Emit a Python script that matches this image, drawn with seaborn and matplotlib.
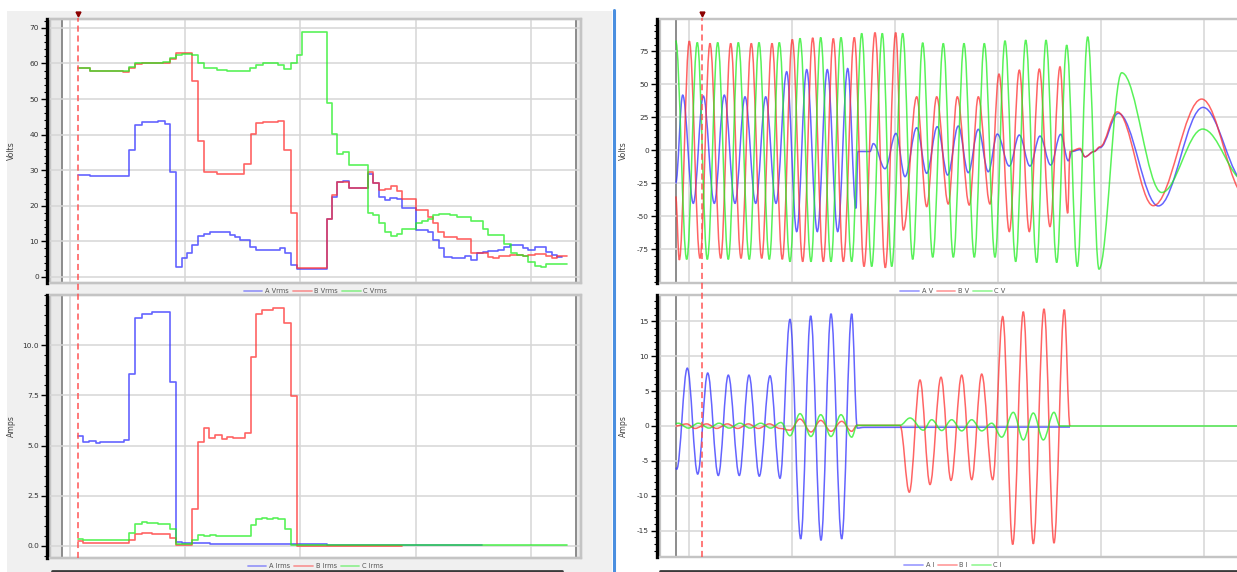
import numpy as np
import pandas as pd
import matplotlib
matplotlib.use("Agg")
import matplotlib.pyplot as plt
import seaborn as sns
from matplotlib.path import Path
from matplotlib.patches import PathPatch, Rectangle
from matplotlib.lines import Line2D
from matplotlib.ticker import MultipleLocator, FixedLocator, FormatStrFormatter

# ---------------- data ----------------
# Left panels: RMS step traces (time in ms-like units, grid every 100)
a_vrms_t = [7.1, 17.7, 51.8, 56.7, 62.5, 76.9, 82.7, 87.0, 91.9, 97.1, 102.0, 106.4, 111.5, 116.5, 121.6,
            139.0, 143.3, 147.6, 156.3, 161.5, 182.3, 186.6, 191.5, 196.7, 222.7, 227.0, 231.9, 237.1, 242.0,
            258.7, 263.1, 268.0, 273.2, 277.5, 283.3, 288.2, 299.7, 310.1, 315.0, 320.2, 324.5, 330.9, 342.4,
            347.3, 352.5, 357.7, 362.6, 371.3, 376.2, 381.4, 392.4, 397.3, 403.0, 412.3, 417.5, 421.8, 426.1]
a_vrms_v = [28.6, 28.4, 35.8, 42.7, 43.5, 43.8, 43.0, 29.4, 2.8, 5.2, 6.8, 9.1, 11.5, 12.2, 12.5,
            11.9, 11.3, 10.5, 8.4, 7.7, 8.0, 6.8, 3.3, 2.2, 16.4, 22.5, 26.7, 27.0, 25.0,
            28.9, 26.3, 22.5, 21.6, 22.2, 21.8, 19.4, 13.3, 12.7, 10.3, 8.0, 5.6, 5.3, 5.9,
            4.7, 6.8, 7.0, 7.3, 7.7, 8.4, 9.1, 8.0, 7.7, 8.4, 7.0, 6.1, 5.6, 5.6]
b_vrms_t = [7.1, 17.7, 46.6, 51.8, 56.7, 62.5, 87.0, 91.9, 105.8, 111.5, 116.5, 127.4, 139.0, 151.1, 156.9,
            161.5, 167.8, 180.8, 186.0, 191.5, 196.7, 222.7, 227.6, 231.9, 242.0, 258.7, 263.1, 268.0, 273.2,
            278.1, 283.3, 288.2, 299.7, 310.1, 315.0, 319.3, 324.5, 335.2, 347.3, 357.7, 362.6, 367.0, 371.9,
            381.4, 392.4, 397.3, 403.0, 412.3, 417.5, 421.8, 430.5]
b_vrms_v = [58.6, 57.9, 57.6, 58.8, 59.8, 60.2, 61.2, 62.9, 55.1, 38.3, 29.4, 28.9, 28.8, 31.7, 40.1,
            43.4, 43.6, 43.9, 35.8, 18.1, 2.5, 16.4, 23.0, 26.7, 24.9, 29.4, 26.3, 24.4, 24.6,
            25.6, 24.2, 21.8, 18.8, 16.9, 15.2, 12.5, 11.3, 10.8, 6.8, 6.6, 5.6, 5.3, 5.9,
            6.1, 5.8, 6.1, 6.4, 5.8, 5.3, 5.8, 5.8]
c_vrms_t = [7.1, 17.7, 51.8, 56.7, 62.5, 81.2, 87.0, 91.9, 97.1, 105.8, 111.5, 116.5, 127.4, 136.1, 156.3,
            161.5, 167.8, 180.8, 186.0, 191.5, 196.7, 201.0, 222.7, 227.0, 231.9, 237.1, 242.0, 258.2, 263.1,
            268.0, 273.2, 278.1, 283.3, 288.2, 299.7, 304.9, 310.1, 315.0, 320.2, 329.4, 335.2, 347.3, 357.7,
            362.6, 376.2, 382.0, 387.2, 392.4, 397.3, 403.0, 408.0, 412.3, 430.5]
c_vrms_v = [58.6, 58.0, 59.1, 60.0, 60.2, 60.4, 61.5, 62.4, 62.7, 62.4, 60.0, 58.6, 58.2, 58.0, 58.6,
            59.6, 60.0, 59.6, 58.5, 60.0, 62.4, 68.8, 48.8, 40.2, 34.5, 35.2, 31.4, 18.1, 17.3,
            15.2, 12.7, 11.4, 12.2, 13.5, 15.2, 15.8, 16.4, 17.3, 17.8, 17.5, 16.9, 15.7, 13.6,
            11.7, 9.2, 6.6, 6.3, 5.8, 4.2, 3.1, 2.8, 3.5, 3.5]

a_irms_t = [7.1, 12.0, 17.2, 23.0, 26.4, 47.2, 51.8, 56.7, 62.5, 71.7, 76.9, 87.0, 91.9, 97.1, 101.4,
            121.6, 152.0, 222.7, 356.9]
a_irms_v = [5.5, 5.2, 5.25, 5.12, 5.2, 5.28, 8.57, 11.37, 11.57, 11.67, 11.65, 8.15, 0.2, 0.17, 0.15,
            0.12, 0.08, 0.05, 0.05]
b_irms_t = [7.1, 12.0, 51.8, 56.7, 62.5, 71.7, 87.0, 91.9, 105.8, 111.5, 116.5, 121.1, 126.0, 131.7, 136.1,
            141.8, 152.0, 156.9, 161.5, 166.4, 175.9, 186.0, 191.5, 196.7, 287.9]
b_irms_v = [0.25, 0.17, 0.32, 0.58, 0.65, 0.58, 0.42, 0.07, 1.83, 5.2, 5.87, 5.4, 5.53, 5.32, 5.42,
            5.37, 5.65, 9.42, 11.57, 11.75, 11.87, 11.12, 7.45, 0.0, 0.0]
c_irms_t = [7.1, 12.0, 51.8, 56.7, 62.5, 66.8, 71.7, 76.9, 87.0, 91.9, 105.8, 111.5, 116.5, 121.6, 126.8,
            156.9, 161.5, 166.4, 170.7, 175.9, 180.8, 186.6, 191.5, 430.5]
c_irms_v = [0.33, 0.28, 0.65, 1.08, 1.17, 1.12, 1.15, 1.1, 0.82, 0.08, 0.28, 0.57, 0.48, 0.53, 0.48,
            1.03, 1.32, 1.4, 1.35, 1.4, 1.32, 0.83, 0.07, 0.07]

# Right panels: waveform extrema (time in samples, grid every 103)
av_t = [-13.3, -6.3, 4.3, 14.3, 25.3, 35.3, 46, 56, 66.7, 76.7, 87, 97.7, 107.7, 117.7, 128.3, 138.3, 148.7,
        158.7, 167, 169, 181, 184.3, 196, 207, 216, 227.7, 237.7, 248.3, 258.7, 269.3, 279.3, 289.3, 299.3,
        308.3, 320.3, 330.3, 341, 351, 361.7, 371.7, 379.3, 383, 391, 396, 405, 411, 429.3, 469.3, 514, 557]
av_v = [-25, 41.7, -40.2, 41, -40.2, 41.7, -40.2, 40.4, -40.2, 40.4, -40.2, 59.4, -61.6, 61, -61.6, 61, -61.6,
        61.8, -44, -1, -1, 5, -14, 12.7, -20, 17, -17.5, 17.8, -18.8, 18.3, -17, 15.8, -16.3,
        12.2, -12, 11.5, -12, 10.7, -11.2, 12, -8, -1, 0.5, -5, -1, 2, 27.9, -42.2, 32.4, -25]
bv_t = [-13.3, -9.7, 0.3, 11, 21, 31.7, 41.7, 52, 62.3, 72.7, 83, 93.3, 103.3, 113.7, 123.7, 134.3, 144.3,
        154.3, 165.3, 175, 186, 196.3, 206.7, 214.3, 227.7, 237.7, 247.7, 259.3, 268.3, 280.3, 289.3, 301,
        310, 320.3, 330.3, 340.3, 350.3, 361, 371, 378.7, 381, 391, 396, 405, 411, 428.3, 464.3, 512.7, 557]
bv_v = [-35, -83, 82.5, -81.8, 80.8, -81.8, 80.8, -81.8, 80.8, -81.8, 80.8, -82.5, 83.8, -84.3, 85, -84.3, 84.5,
        -84.3, 85.3, -88, 89, -88.9, 89, -60.4, 40.4, -42.7, 40.4, -40.7, 40.4, -41.5, 40.4, -40.7,
        57.6, -61.6, 60.6, -61.6, 61.4, -57.8, 63.1, -47.7, -1, 1.4, -5, -1, 2.6, 29, -42, 38.7, -35]
cv_t = [-13.3, -2.3, 8.3, 18.3, 28.7, 39.3, 49.3, 60.3, 70, 80.3, 90.3, 101, 111, 122, 131.7, 142, 152,
        162.7, 172.7, 182.7, 193.3, 202.7, 213.7, 223.7, 233.7, 243.7, 254.3, 264.3, 275, 285.3, 295.3, 306,
        316, 326.7, 336.7, 347.7, 357, 367.7, 377.7, 388.3, 398.7, 410, 432.7, 472.7, 513.7, 557]
cv_v = [83, -82.6, 81.5, -82.6, 81.5, -82.6, 81.5, -82.6, 81.5, -82.6, 81.5, -84.3, 84.6, -84.3, 85.3, -84.3, 85.3,
        -84.3, 88.4, -88, 88.4, -88, 88.4, -82.6, 81.3, -81, 80.8, -81, 80.8, -81, 80.8, -81,
        82.8, -84.3, 83.3, -85, 83.3, -85, 79.5, -88, 85.8, -90, 58.6, -32, 16, -24]

ai_t = [-13.3, -12.3, -1.7, 8.7, 18.7, 29.3, 39.3, 50.3, 60, 70.3, 81, 91, 101, 111.7, 121.7, 132, 142,
        152.7, 162.7, 168.3, 175, 381]
ai_v = [-6.0, -6.2, 8.3, -6.9, 7.6, -7.1, 7.3, -7.1, 7.3, -7.2, 7.2, -7.5, 15.3, -16.2, 15.8, -16.4, 16.1,
        -16.2, 16.1, -0.3, -0.2, -0.15]
bi_t = [-13.3, -2.3, 6, 17.7, 27.7, 38.3, 48.7, 59.3, 69.3, 80.3, 91, 101, 111, 122, 131.7, 142, 152.7,
        162.7, 168, 211, 220.3, 231, 241, 252, 262, 272.7, 282.7, 292.7, 303.7, 313.7, 323.7, 334.3, 344.3,
        355, 365, 375.3, 381]
bi_v = [0.0, 0.3, -0.35, 0.3, -0.35, 0.3, -0.35, 0.3, -0.35, 0.3, -0.35, -0.6, 1.0, -0.86, 0.8, -0.76, 0.67,
        -0.76, 0.1, 0.1, -9.5, 6.6, -8.4, 7.0, -7.8, 7.3, -7.7, 7.45, -7.7, 15.7, -17, 16.4, -16.9,
        16.8, -16.8, 16.7, 0.0]
ci_t = [-13.3, -10.7, -0.7, 9.3, 20, 30, 40.3, 51, 61, 71.7, 81.7, 92, 101, 111, 122, 131.7, 142, 152,
        162.7, 168, 211, 221, 234.3, 242.7, 252.7, 262.7, 272.7, 282.7, 292.7, 302.7, 312.7, 324.3, 334.3,
        344.3, 354.3, 365, 371, 557]
ci_v = [0.35, 0.4, -0.3, 0.4, -0.3, 0.4, -0.3, 0.4, -0.3, 0.4, -0.3, 0.5, -1.4, 1.77, -1.5, 1.62, -1.5, 1.62,
        -1.6, 0.1, 0.1, 1.15, -0.6, 0.9, -0.65, 0.9, -0.7, 0.9, -0.7, 0.4, -1.6, 1.96, -2.0,
        1.86, -2.0, 1.96, 0.0, 0.0]

vrms_labels = ["A Vrms", "B Vrms", "C Vrms"]
irms_labels = ["A Irms", "B Irms", "C Irms"]
v_labels = ["A V", "B V", "C V"]
i_labels = ["A I", "B I", "C I"]
volt_ticks = [0, 10, 20, 30, 40, 50, 60, 70]
amp_ticks = [0.0, 2.5, 5.0, 7.5, 10.0]
wv_ticks = [-75, -50, -25, 0, 25, 50, 75]
wi_ticks = [-15, -10, -5, 0, 5, 10, 15]

# ---------------- style ----------------
sns.set_theme(style="white")
plt.rcParams['font.family'] = ['DejaVu Sans']
plt.rcParams['axes.unicode_minus'] = False

COLORS = ['#3030ff', '#ff3030', '#22ee22']
W, H = 1237, 572
fig = plt.figure(figsize=(W / 100, H / 100), dpi=100)
fig.patch.set_facecolor('white')


def fx(px):
    return px / W


def fy(py):
    return 1 - py / H


# background panel (left) and separator
fig.add_artist(Rectangle((fx(7), fy(572)), fx(612) - fx(7), fy(11) - fy(572), transform=fig.transFigure,
                         facecolor='#f0f0f0', edgecolor='none', zorder=-5))
fig.add_artist(Line2D([fx(614), fx(614)], [fy(572), fy(10)], transform=fig.transFigure,
                      color='#4a8fe0', lw=2.2, zorder=-4))
for x0, x1 in [(52, 562), (660, 1237)]:
    fig.add_artist(Line2D([fx(x0), fx(x1)], [fy(571), fy(571)], transform=fig.transFigure,
                          color='#3a3a3a', lw=2.0, zorder=-4))


def make_ax(l, t, r, b):
    return fig.add_axes([fx(l), fy(b), fx(r) - fx(l), fy(t) - fy(b)])


ax_lv = make_ax(50, 19, 581, 283)
ax_li = make_ax(50, 295, 581, 558)
ax_rv = make_ax(660, 19, 1246, 283)
ax_ri = make_ax(660, 295, 1246, 557)


def style_ax(ax, xlim, ylim, ticks, minor, fmt, grid_step, ylabel, label_x):
    ax.set_facecolor('white')
    ax.set_xlim(xlim)
    ax.set_ylim(ylim)
    ax.yaxis.set_major_locator(FixedLocator(ticks))
    ax.yaxis.set_minor_locator(MultipleLocator(minor))
    ax.yaxis.set_major_formatter(FormatStrFormatter(fmt))
    ax.xaxis.set_major_locator(MultipleLocator(grid_step))
    ax.tick_params(axis='x', which='both', bottom=False, labelbottom=False)
    ax.tick_params(axis='y', which='major', left=True, length=4, width=1.0, color='black',
                   labelsize=5.3, labelcolor='#333333', pad=2)
    ax.tick_params(axis='y', which='minor', left=True, length=2.2, width=0.8, color='black')
    ax.grid(True, which='major', axis='both', color='#d6d6d6', lw=1.1, zorder=0)
    ax.set_axisbelow(True)
    for s in ['top', 'right', 'bottom']:
        ax.spines[s].set_color('#c4c4c4')
        ax.spines[s].set_linewidth(1.6)
    ax.spines['left'].set_color('black')
    ax.spines['left'].set_linewidth(2.4)
    ax.spines['left'].set_position(('outward', 2))
    ax.add_patch(Rectangle((0, 0), 1, 1, transform=ax.transAxes, facecolor='none',
                           edgecolor='#c4c4c4', lw=1.6, clip_on=False, zorder=0.5))
    ax.set_ylabel(ylabel, fontsize=5.6, color='#444444')
    ax.yaxis.set_label_coords(label_x, 0.5)


def add_legend(ax, labels):
    handles = [Line2D([], [], color=c, lw=1.3, alpha=0.45) for c in COLORS]
    leg = ax.legend(handles, labels, loc='upper center', bbox_to_anchor=(0.5, -0.004), ncol=3,
                    frameon=False, fontsize=4.8, handlelength=2.8, handletextpad=0.4,
                    columnspacing=0.6, borderaxespad=0.2)
    for t in leg.get_texts():
        t.set_color('#555555')


# ---- left panels ----
L_XLIM = (-16.9, 442.9)
for ax in (ax_lv, ax_li):
    ax.axvspan(L_XLIM[0], -6.5, color='#e9e9e9', lw=0, zorder=0.2)
    ax.axvspan(438.5, L_XLIM[1], color='#e9e9e9', lw=0, zorder=0.2)
    ax.axvline(-6.5, color='#8c8c8c', lw=1.4, zorder=0.3)
    ax.axvline(438.5, color='#8c8c8c', lw=1.4, zorder=0.3)

style_ax(ax_lv, L_XLIM, (-1.7, 72.5), volt_ticks, 2, '%d', 100, 'Volts', -0.064)
style_ax(ax_li, L_XLIM, (-0.6, 12.5), amp_ticks, 0.5, '%.1f', 100, 'Amps', -0.064)


def steps_frame(ts, vs, labels):
    parts = [pd.DataFrame({'t': t, 'v': v, 'series': lab}) for t, v, lab in zip(ts, vs, labels)]
    return pd.concat(parts, ignore_index=True)


df_v = steps_frame([a_vrms_t, b_vrms_t, c_vrms_t], [a_vrms_v, b_vrms_v, c_vrms_v], vrms_labels)
df_i = steps_frame([a_irms_t, b_irms_t, c_irms_t], [a_irms_v, b_irms_v, c_irms_v], irms_labels)
sns.lineplot(data=df_v, x='t', y='v', hue='series', hue_order=vrms_labels, palette=COLORS,
             estimator=None, drawstyle='steps-post', lw=1.2, alpha=0.75, legend=False, ax=ax_lv, zorder=3)
sns.lineplot(data=df_i, x='t', y='v', hue='series', hue_order=irms_labels, palette=COLORS,
             estimator=None, drawstyle='steps-post', lw=1.2, alpha=0.75, legend=False, ax=ax_li, zorder=3)
for ax in (ax_lv, ax_li):
    ax.set_xlabel('')
style_ax(ax_lv, L_XLIM, (-1.7, 72.5), volt_ticks, 2, '%d', 100, 'Volts', -0.064)
style_ax(ax_li, L_XLIM, (-0.6, 12.5), amp_ticks, 0.5, '%.1f', 100, 'Amps', -0.064)
add_legend(ax_lv, vrms_labels)
add_legend(ax_li, irms_labels)

# ---- right panels ----
R_XLIM = (-29, 557)


def wave_path(t, v, d=0.364):
    verts = [(t[0], v[0])]
    codes = [Path.MOVETO]
    for i in range(1, len(t)):
        dt = t[i] - t[i - 1]
        verts += [(t[i - 1] + d * dt, v[i - 1]), (t[i] - d * dt, v[i]), (t[i], v[i])]
        codes += [Path.CURVE4] * 3
    return Path(verts, codes)


for ax in (ax_rv, ax_ri):
    ax.axvline(-13, color='#8c8c8c', lw=1.4, zorder=0.3)

style_ax(ax_rv, R_XLIM, (-100.5, 99.3), wv_ticks, 5, '%d', 103, 'Volts', -0.0546)
style_ax(ax_ri, R_XLIM, (-18.8, 18.8), wi_ticks, 1, '%d', 103, 'Amps', -0.0546)

for ax, series in [(ax_rv, [(av_t, av_v), (bv_t, bv_v), (cv_t, cv_v)]),
                   (ax_ri, [(ai_t, ai_v), (bi_t, bi_v), (ci_t, ci_v)])]:
    for (t, v), c in zip(series, COLORS):
        ax.add_patch(PathPatch(wave_path(t, v), facecolor='none', edgecolor=c, lw=1.1,
                               alpha=0.75, zorder=3))
add_legend(ax_rv, v_labels)
add_legend(ax_ri, i_labels)

# cursors
for xc, yb in [(78, 558), (702, 557)]:
    fig.add_artist(Line2D([fx(xc), fx(xc)], [fy(yb), fy(18)], transform=fig.transFigure,
                          color='#ff5555', lw=1.1, ls=(0, (4, 2.5)), zorder=10))
    fig.add_artist(Line2D([fx(xc)], [fy(14)], transform=fig.transFigure, marker='v',
                          color='#8b0000', markersize=3.5, lw=0, zorder=11))

fig.savefig('out.png', dpi=100, facecolor='white')
